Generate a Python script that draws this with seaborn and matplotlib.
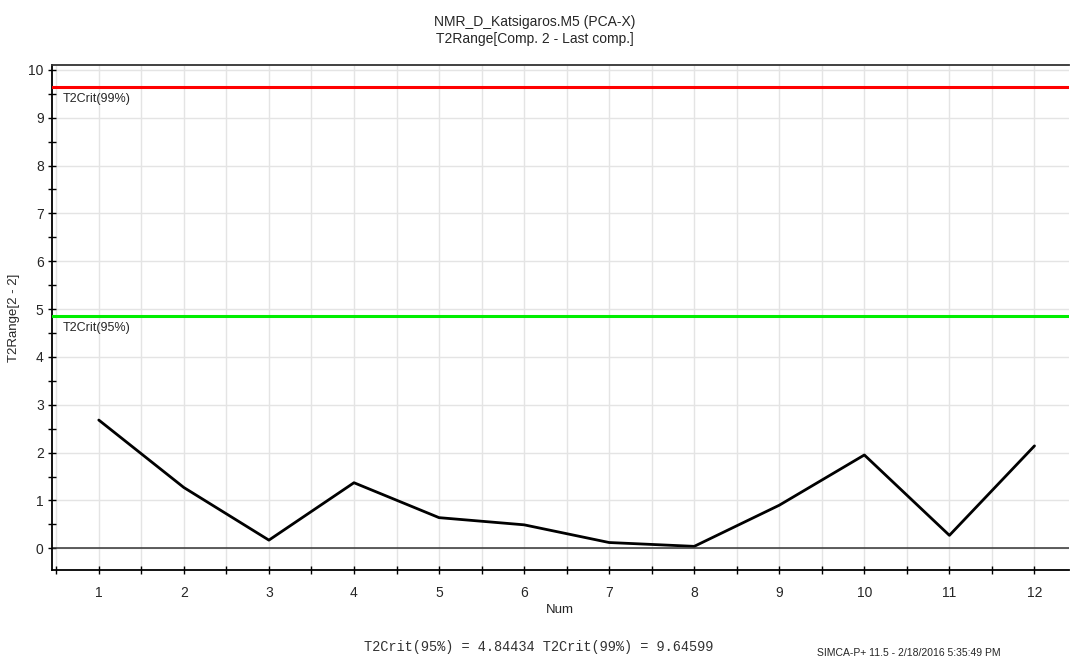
import numpy as np
import pandas as pd
import matplotlib.pyplot as plt
import seaborn as sns
from matplotlib.ticker import MultipleLocator

# data
num = [1, 2, 3, 4, 5, 6, 7, 8, 9, 10, 11, 12]
t2range = [2.68, 1.27, 0.17, 1.37, 0.64, 0.49, 0.12, 0.04, 0.90, 1.95, 0.27, 2.14]
t2crit_95 = 4.84434
t2crit_99 = 9.64599

df = pd.DataFrame({"Num": num, "T2Range": t2range})

sns.set_style("white")
plt.rcParams['font.family'] = ['Liberation Sans', 'DejaVu Sans']

fig = plt.figure(figsize=(10.7, 6.57), dpi=100)
ax = fig.add_axes([0.0486, 0.132, 0.95, 0.769])

sns.lineplot(data=df, x="Num", y="T2Range", color="black", linewidth=2, ax=ax)

ax.axhline(t2crit_99, color="#ff0000", linewidth=2.2, zorder=3)
ax.axhline(t2crit_95, color="#00ee00", linewidth=2.2, zorder=3)
ax.axhline(0, color="#333333", linewidth=1.1, zorder=2)
ax.text(0.57, t2crit_99 - 0.12, "T2Crit(99%)", fontsize=9, va="top", ha="left")
ax.text(0.57, t2crit_95 - 0.12, "T2Crit(95%)", fontsize=9, va="top", ha="left")

ax.set_xlim(0.45, 12.4)
ax.set_ylim(-0.46, 10.1)
ax.xaxis.set_major_locator(MultipleLocator(1))
ax.xaxis.set_minor_locator(MultipleLocator(0.5))
ax.yaxis.set_major_locator(MultipleLocator(1))
ax.yaxis.set_minor_locator(MultipleLocator(0.5))
ax.grid(True, which="major", axis="both", color="#e4e4e4", linewidth=1)
ax.grid(True, which="minor", axis="x", color="#e4e4e4", linewidth=1)
ax.set_axisbelow(True)

ax.tick_params(axis="both", which="both", direction="inout", length=6, width=1,
               color="black", labelsize=10, bottom=True, left=True)
ax.tick_params(axis="x", which="major", pad=8)
ax.tick_params(axis="y", which="major", pad=3)

for s in ["left", "bottom"]:
    ax.spines[s].set_color("black")
    ax.spines[s].set_linewidth(1.3)
ax.spines["top"].set_color("#333333")
ax.spines["top"].set_linewidth(1.3)
ax.spines["right"].set_visible(False)

ax.set_xlabel("Num", fontsize=9.5, labelpad=3)
ax.set_ylabel("T2Range[2 - 2]", fontsize=9.5, labelpad=6)

fig.text(0.5, 0.954, "NMR_D_Katsigaros.M5 (PCA-X)\nT2Range[Comp. 2 - Last comp.]",
         ha="center", va="center", fontsize=10, linespacing=1.3)
fig.text(0.503, 0.004, "T2Crit(95%) = 4.84434 T2Crit(99%) = 9.64599",
         ha="center", va="bottom", fontsize=9.8, color="#333333",
         family=["Liberation Mono", "DejaVu Sans Mono"])
fig.text(0.764, -0.002, "SIMCA-P+ 11.5 - 2/18/2016 5:35:49 PM",
         ha="left", va="bottom", fontsize=7.5)

fig.savefig("out.png", dpi=100)
plt.close(fig)
